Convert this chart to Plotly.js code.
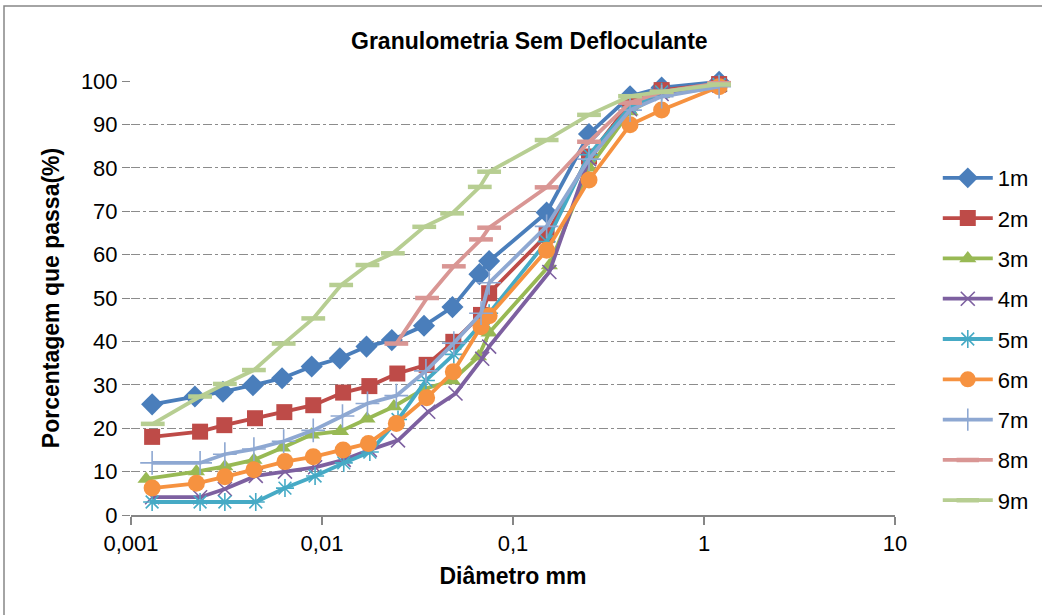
<!DOCTYPE html>
<html>
<head>
<meta charset="utf-8">
<script src="https://cdn.plot.ly/plotly-3.0.1.min.js"></script>
<style>html,body{margin:0;padding:0;background:#fff;}#chart{width:1042px;height:615px;}</style>
</head>
<body>
<div id="chart"></div>
<script>
// Diameters (mm) and percent passing for each depth
const names = ["1m","2m","3m","4m","5m","6m","7m","8m","9m"];
const d1 = [0.00129,0.00216,0.00303,0.00435,0.00618,0.00883,0.0124,0.0171,0.0232,0.0342,0.0482,0.0667,0.075,0.15,0.25,0.41,0.6,1.2];
const p1 = [25.5,27.3,28.4,29.9,31.5,34.2,36.1,38.8,40.3,43.6,47.9,55.5,58.5,69.7,87.8,96.5,98.5,99.8];
const d2 = [0.00129,0.0023,0.00308,0.00446,0.00635,0.0090,0.0129,0.0177,0.0248,0.0353,0.0487,0.068,0.075,0.15,0.25,0.41,0.6,1.2];
const p2 = [18.0,19.2,20.7,22.3,23.7,25.3,28.2,29.7,32.6,34.6,39.9,46.1,51.1,64.5,82.6,94.9,97.9,99.3];
const d3 = [0.0012,0.0022,0.0031,0.0044,0.0062,0.0088,0.0125,0.0172,0.0238,0.034,0.048,0.066,0.075,0.155,0.25,0.41,0.6,1.2];
const p3 = [8.3,10.0,11.2,12.7,15.5,18.5,19.3,22.2,25.0,29.0,31.0,36.5,42.0,57.5,80.0,93.0,97.0,98.5];
const d4 = [0.00129,0.0023,0.0031,0.0045,0.0064,0.0092,0.013,0.0178,0.025,0.036,0.05,0.069,0.075,0.155,0.25,0.41,0.6,1.2];
const p4 = [4.1,4.1,6.0,9.0,10.0,11.0,12.7,15.0,17.2,23.8,28.0,36.0,38.8,56.0,82.0,93.5,97.0,99.0];
const d5 = [0.00129,0.0023,0.0031,0.0045,0.0064,0.0092,0.013,0.0178,0.025,0.035,0.049,0.068,0.075,0.15,0.25,0.41,0.6,1.2];
const p5 = [3.0,3.0,3.0,3.0,6.2,9.0,12.0,14.5,22.0,31.0,37.0,44.0,46.5,63.0,83.0,94.0,97.5,99.2];
const d6 = [0.00129,0.0022,0.0031,0.0044,0.0064,0.009,0.0129,0.0175,0.0245,0.0353,0.0487,0.068,0.075,0.15,0.25,0.41,0.6,1.2];
const p6 = [6.2,7.3,8.8,10.4,12.3,13.4,15.0,16.5,21.1,27.0,33.0,43.4,45.9,61.0,77.2,89.9,93.3,98.7];
const d7 = [0.00129,0.0023,0.0031,0.0044,0.0063,0.009,0.0128,0.0173,0.0245,0.035,0.049,0.068,0.075,0.15,0.25,0.41,0.6,1.2];
const p7 = [12.0,12.0,14.0,15.2,17.0,19.5,22.8,25.7,27.5,33.2,39.6,46.5,53.5,66.5,82.0,93.3,96.4,98.7];
const d8 = [0.0245,0.0355,0.049,0.068,0.075,0.15,0.25,0.41,0.6,1.2];
const p8 = [39.5,50.0,57.3,63.5,66.2,75.5,86.0,95.0,97.5,99.5];
const d9 = [0.0013,0.0023,0.0031,0.0044,0.0063,0.009,0.0126,0.0173,0.0235,0.0343,0.048,0.067,0.075,0.15,0.25,0.41,0.6,1.2];
const p9 = [21.0,27.3,30.2,33.4,39.5,45.3,53.0,57.6,60.3,66.4,69.5,75.6,79.1,86.4,92.2,96.5,97.5,99.2];

const xTickVals = [0.001,0.01,0.1,1,10];
const xTickText = ["0,001","0,01","0,1","1","10"];
const yTickVals = [0,10,20,30,40,50,60,70,80,90,100];

const xs = [d1,d2,d3,d4,d5,d6,d7,d8,d9];
const ys = [p1,p2,p3,p4,p5,p6,p7,p8,p9];
const colors = ["#4A7EBB","#BE4B48","#98B954","#7D60A0","#46AAC5","#F69240","#8EA8D2","#D99694","#B7CE92"];
const styles = [
  {symbol:"diamond", size:17},
  {symbol:"square", size:16},
  {symbol:"triangle-up", size:15},
  {symbol:"x-thin-open", size:14, lw:1.6},
  {symbol:"asterisk-open", size:15, lw:1.6},
  {symbol:"circle", size:17},
  {symbol:"cross-thin-open", size:17, lw:1.6},
  {symbol:"line-ew-open", size:17, lw:4.5},
  {symbol:"line-ew-open", size:17, lw:4.5}
];

const traces = names.map((n,i)=>{
  const s = styles[i];
  const marker = {symbol:s.symbol, size:s.size, color:colors[i]};
  if (s.lw) marker.line = {color:colors[i], width:s.lw};
  return {
    x: xs[i], y: ys[i], name: n, type:"scatter", mode:"lines+markers",
    line:{color:colors[i], width:3.8}, marker: marker,
    cliponaxis:false, legendgroup:"g"+i
  };
});

const F = "Liberation Sans, Arial, sans-serif";
const layout = {
  width:1042, height:615,
  margin:{l:131, r:147, t:81, b:100, pad:0, autoexpand:false},
  paper_bgcolor:"#fff", plot_bgcolor:"#fff",
  font:{family:F, size:22, color:"#000"},
  title:{text:"<b>Granulometria Sem Defloculante</b>", x:0.508, xref:"container", y:1-41/615, yref:"container", yanchor:"middle", xanchor:"center", font:{family:F, size:23, color:"#000"}},
  xaxis:{type:"log", range:[-3,1], tickvals:xTickVals, ticktext:xTickText,
    showgrid:false, zeroline:false, showline:true, linecolor:"#868686", linewidth:1.5,
    ticks:"outside", ticklen:8, tickcolor:"#868686", tickwidth:1.5,
    tickfont:{family:F, size:22, color:"#000"},
    title:{text:"<b>Diâmetro mm</b>", font:{family:F, size:23, color:"#000"}, standoff:13}},
  yaxis:{range:[0,100], tickvals:yTickVals, showgrid:true, gridcolor:"#8c8c8c", griddash:"dashdot", gridwidth:1,
    zeroline:false, showline:false, ticks:"outside", ticklen:8, tickcolor:"#868686",
    tickfont:{family:F, size:22, color:"#000"},
    title:{text:"<b>Porcentagem que passa(%)</b>", font:{family:F, size:23, color:"#000"}, standoff:14}},
  legend:{x:1.056, xanchor:"left", y:(515-157)/434, yanchor:"top", font:{family:F, size:22, color:"#000"},
    itemwidth:50, tracegroupgap:8.7, bgcolor:"rgba(0,0,0,0)"},
  shapes:[{type:"rect", xref:"paper", yref:"paper", x0:(4-131)/764, x1:(1060-131)/764, y0:(515-625)/434, y1:(515-6)/434,
    line:{color:"#868686", width:1.5}, fillcolor:"rgba(0,0,0,0)", layer:"below"}],
  showlegend:true
};
Plotly.newPlot("chart", traces, layout, {displayModeBar:false, staticPlot:true});
</script>
</body>
</html>
